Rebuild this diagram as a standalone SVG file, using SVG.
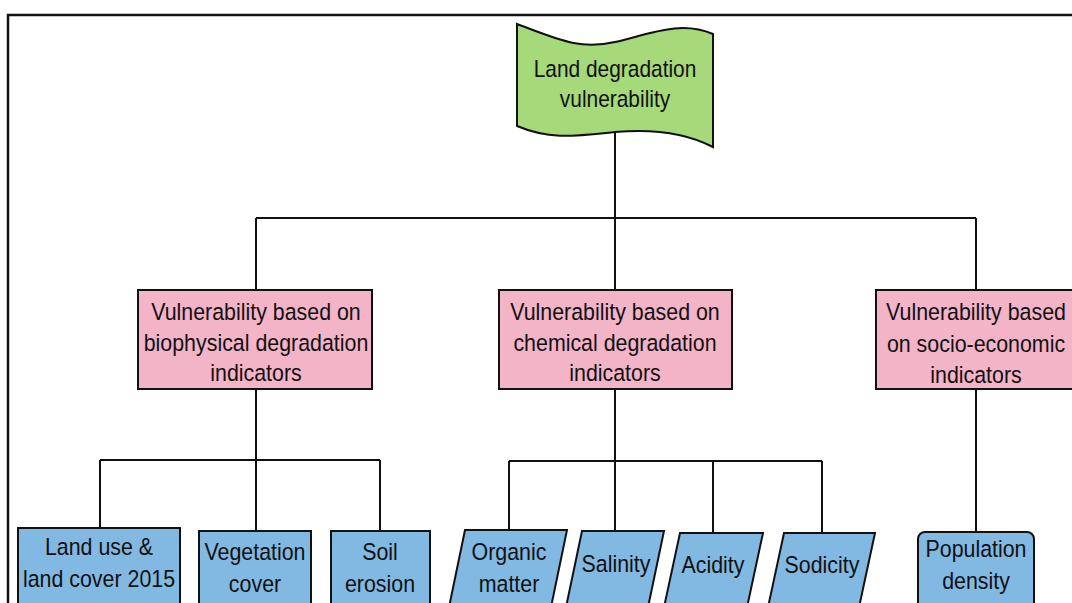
<svg xmlns="http://www.w3.org/2000/svg" width="1072" height="603" viewBox="0 0 1072 603">
<style>
text{font-family:"Liberation Sans",Arial,sans-serif;font-size:23.5px;fill:#111;text-anchor:middle}
.box{stroke:#111;stroke-width:2}
.green{fill:#a6d97a}
.pink{fill:#f3b4c8}
.blue{fill:#82b9e3}
.conn{fill:none;stroke:#111;stroke-width:2}
</style>
<rect width="1072" height="603" fill="#fff"/>
<path d="M8,603 L8,15 L1072,15" fill="none" stroke="#111" stroke-width="2.5"/>
<g id="connectors" class="conn">
<path d="M615,132 V218 M256,218 H976 M256,218 V290 M615,218 V290 M976,218 V290"/>
<path d="M256,389 V460 M100,460 H380 M100,460 V528 M256,460 V531 M380,460 V531"/>
<path d="M615,389 V461 M509,461 H822 M509,461 V530 M615,461 V531 M713,461 V533 M822,461 V533"/>
<path d="M976,389 V532"/>
</g>
<g id="root">
<path class="box green" d="M517,24 C560,40 580,50 615,42 C650,34 680,20 713,34 L713,147 C690,135 660,128 615,132 C575,136 550,140 517,126 Z"/>
<text transform="translate(615 77) scale(0.89 1)">Land degradation</text>
<text transform="translate(615 107) scale(0.89 1)">vulnerability</text>
</g>
<g id="biophysical">
<rect class="box pink" x="138" y="290" width="234" height="99"/>
<text transform="translate(256 320) scale(0.91 1)">Vulnerability based on</text>
<text transform="translate(256 351) scale(0.91 1)">biophysical degradation</text>
<text transform="translate(256 381) scale(0.91 1)">indicators</text>
</g>
<g id="chemical">
<rect class="box pink" x="499" y="290" width="233" height="99"/>
<text transform="translate(615 320) scale(0.91 1)">Vulnerability based on</text>
<text transform="translate(615 351) scale(0.91 1)">chemical degradation</text>
<text transform="translate(615 381) scale(0.91 1)">indicators</text>
</g>
<g id="socio">
<rect class="box pink" x="876" y="290" width="200" height="99"/>
<text transform="translate(976 320) scale(0.91 1)">Vulnerability based</text>
<text transform="translate(976 352) scale(0.91 1)">on socio-economic</text>
<text transform="translate(976 383) scale(0.91 1)">indicators</text>
</g>
<g id="landuse">
<rect class="box blue" x="18" y="528" width="162" height="85"/>
<text transform="translate(99 555) scale(0.91 1)">Land use &amp;</text>
<text transform="translate(99 587) scale(0.91 1)">land cover 2015</text>
</g>
<g id="vegetation">
<rect class="box blue" x="199" y="531" width="112" height="85"/>
<text transform="translate(255 560) scale(0.91 1)">Vegetation</text>
<text transform="translate(255 592) scale(0.91 1)">cover</text>
</g>
<g id="soil">
<rect class="box blue" x="331" y="531" width="99" height="85"/>
<text transform="translate(380 560) scale(0.91 1)">Soil</text>
<text transform="translate(380 592) scale(0.91 1)">erosion</text>
</g>
<g id="organic">
<path class="box blue" d="M465,530 H567 L550,612 H448 Z"/>
<text transform="translate(509 560) scale(0.91 1)">Organic</text>
<text transform="translate(509 592) scale(0.91 1)">matter</text>
</g>
<g id="salinity">
<path class="box blue" d="M582,531 H664 L647,612 H565 Z"/>
<text transform="translate(616 572) scale(0.91 1)">Salinity</text>
</g>
<g id="acidity">
<path class="box blue" d="M680,533 H763 L746,612 H663 Z"/>
<text transform="translate(713 573) scale(0.91 1)">Acidity</text>
</g>
<g id="sodicity">
<path class="box blue" d="M784,533 H875 L858,612 H767 Z"/>
<text transform="translate(822 573) scale(0.91 1)">Sodicity</text>
</g>
<g id="population">
<rect class="box blue" x="918" y="532" width="116" height="85" rx="7"/>
<text transform="translate(976 557) scale(0.91 1)">Population</text>
<text transform="translate(976 589) scale(0.91 1)">density</text>
</g>
</svg>
